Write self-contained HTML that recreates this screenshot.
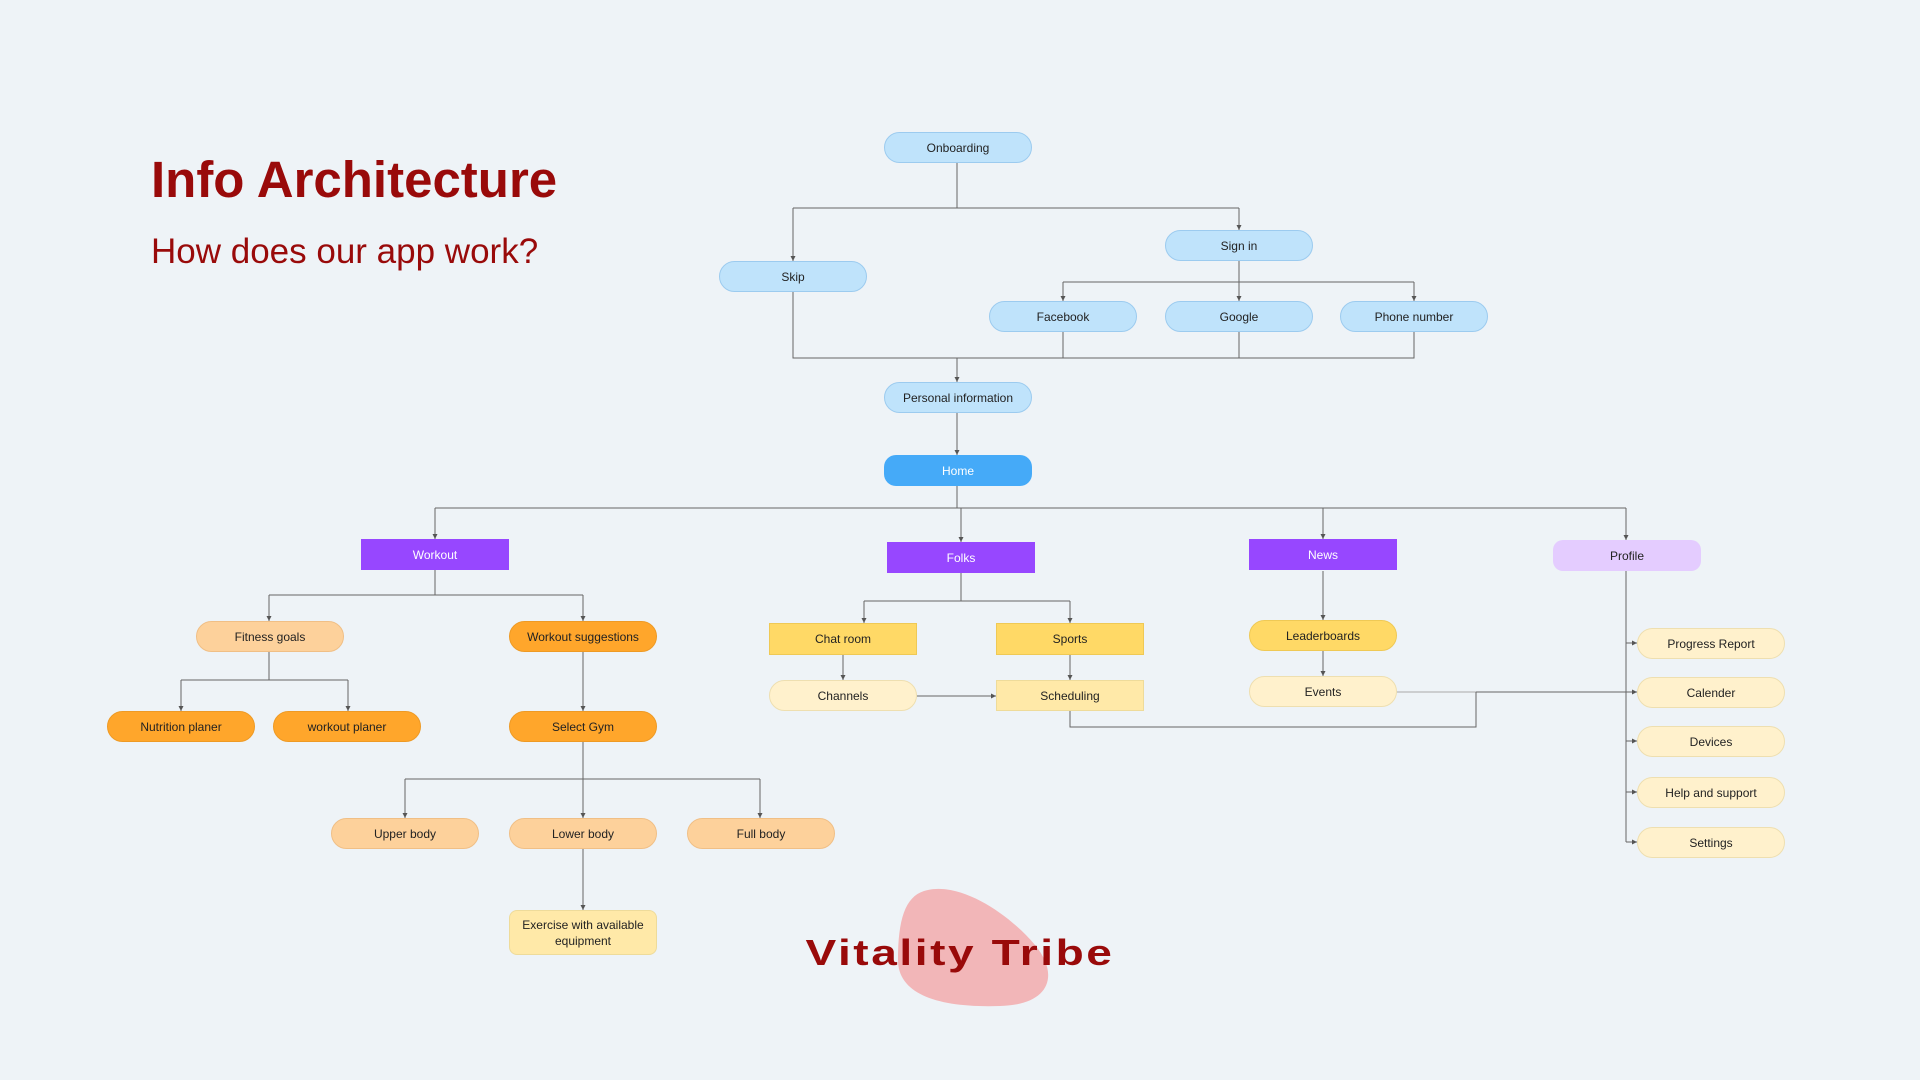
<!DOCTYPE html>
<html><head><meta charset="utf-8"><style>
body{margin:0;width:1920px;height:1080px;background:#eef3f7;position:relative;overflow:hidden;font-family:"Liberation Sans",sans-serif}
.n{position:absolute;display:flex;align-items:center;justify-content:center;text-align:center;font-size:12px;color:#222;box-sizing:border-box;border-radius:16px;width:148px;height:31px;line-height:16px}
.b{background:#bfe3fb;border:1px solid #9ccbef}
.h{background:#45aaf8;color:#fff;border-radius:12px}
.p{background:#9747ff;color:#fff;border-radius:0}
.pr{background:#e4ccff;border-radius:10px}
.lo{background:#fdd19b;border:1px solid #f0bf86}
.o{background:#ffa62b;border:1px solid #ee9a25}
.y{background:#ffd966;border:1px solid #efc955}
.yr{background:#ffd966;border:1px solid #efc955;border-radius:0}
.py{background:#fff1cc;border:1px solid #eedfb0}
.pyr{background:#ffe9a8;border:1px solid #eedb9a;border-radius:0}
svg{position:absolute;left:0;top:0}
</style></head><body>
<div style="position:absolute;left:151px;top:150px;font-size:51px;font-weight:bold;color:#990a0a">Info Architecture</div>
<div style="position:absolute;left:151px;top:232px;font-size:35px;color:#990a0a">How does our app work?</div>
<svg width="1920" height="1080">
<defs><marker id="a" markerWidth="6" markerHeight="6" refX="5" refY="3" orient="auto"><path d="M0,0.5L5,3L0,5.5z" fill="#555"/></marker></defs>
<path d="M924,891 C960,880 1010,915 1035,945 C1060,975 1050,1005 1000,1006 C940,1008 898,995 898,960 C898,920 905,897 924,891Z" fill="#f2b6b8"/>
<g stroke="#666" stroke-width="1" fill="none">
<path d="M957,163V208H1239"/><path d="M957,208H793"/>
<path d="M1239,261V282H1063"/><path d="M1239,282H1414"/>
<path d="M793,291V358H1414V332"/><path d="M1063,332V358"/><path d="M1239,332V358"/>
<path d="M957,486V508H435"/><path d="M957,508H1626"/>
<path d="M435,569V595H583"/><path d="M435,595H269"/>
<path d="M269,651V680H348"/><path d="M269,680H181"/>
<path d="M583,742V779H405"/><path d="M583,779H760"/>
<path d="M961,573V601H1070"/><path d="M961,601H864"/>
<path d="M1397,692H1476" stroke="#aaa"/>
<path d="M1070,711V727H1476V692"/>
<path d="M1626,571V842"/>
</g>
<g stroke="#666" stroke-width="1" fill="none" marker-end="url(#a)">
<path d="M793,208V261"/><path d="M1239,208V230"/>
<path d="M1063,282V301"/><path d="M1239,282V301"/><path d="M1414,282V301"/>
<path d="M957,358V382"/>
<path d="M957,413V455"/>
<path d="M435,508V539"/><path d="M961,508V542"/><path d="M1323,508V539"/><path d="M1626,508V540"/>
<path d="M269,595V621"/><path d="M583,595V621"/>
<path d="M181,680V711"/><path d="M348,680V711"/>
<path d="M583,651V711"/>
<path d="M405,779V818"/><path d="M583,779V818"/><path d="M760,779V818"/>
<path d="M583,849V910"/>
<path d="M864,601V623"/><path d="M1070,601V623"/>
<path d="M843,655V680"/><path d="M1070,655V680"/><path d="M917,696H996"/>
<path d="M1323,571V620"/><path d="M1323,651V676"/>
<path d="M1476,692H1637"/>
<path d="M1626,643H1637"/><path d="M1626,741H1637"/><path d="M1626,792H1637"/><path d="M1626,842H1637"/>
</g></svg>
<div class="n b" style="left:884px;top:132px">Onboarding</div>
<div class="n b" style="left:719px;top:261px">Skip</div>
<div class="n b" style="left:1165px;top:230px">Sign in</div>
<div class="n b" style="left:989px;top:301px">Facebook</div>
<div class="n b" style="left:1165px;top:301px">Google</div>
<div class="n b" style="left:1340px;top:301px">Phone number</div>
<div class="n b" style="left:884px;top:382px">Personal information</div>
<div class="n h" style="left:884px;top:455px">Home</div>
<div class="n p" style="left:361px;top:539px">Workout</div>
<div class="n p" style="left:887px;top:542px">Folks</div>
<div class="n p" style="left:1249px;top:539px">News</div>
<div class="n pr" style="left:1553px;top:540px">Profile</div>
<div class="n lo" style="left:196px;top:621px">Fitness goals</div>
<div class="n o" style="left:509px;top:621px">Workout suggestions</div>
<div class="n o" style="left:107px;top:711px">Nutrition planer</div>
<div class="n o" style="left:273px;top:711px">workout planer</div>
<div class="n o" style="left:509px;top:711px">Select Gym</div>
<div class="n lo" style="left:331px;top:818px">Upper body</div>
<div class="n lo" style="left:509px;top:818px">Lower body</div>
<div class="n lo" style="left:687px;top:818px">Full body</div>
<div class="n pyr" style="left:509px;top:910px;height:45px;border-radius:8px;background:#ffe9a8">Exercise with available<br>equipment</div>
<div class="n yr" style="left:769px;top:623px;height:32px">Chat room</div>
<div class="n yr" style="left:996px;top:623px;height:32px">Sports</div>
<div class="n py" style="left:769px;top:680px">Channels</div>
<div class="n pyr" style="left:996px;top:680px">Scheduling</div>
<div class="n y" style="left:1249px;top:620px">Leaderboards</div>
<div class="n py" style="left:1249px;top:676px">Events</div>
<div class="n py" style="left:1637px;top:628px">Progress Report</div>
<div class="n py" style="left:1637px;top:677px">Calender</div>
<div class="n py" style="left:1637px;top:726px">Devices</div>
<div class="n py" style="left:1637px;top:777px">Help and support</div>
<div class="n py" style="left:1637px;top:827px">Settings</div>
<div style="position:absolute;left:800px;top:933px;width:320px;text-align:center;font-size:36px;font-weight:900;color:#990a0a;letter-spacing:2px;transform:scaleX(1.28);transform-origin:center;line-height:40px;font-family:'Liberation Sans',sans-serif">Vitality Tribe</div>
</body></html>
